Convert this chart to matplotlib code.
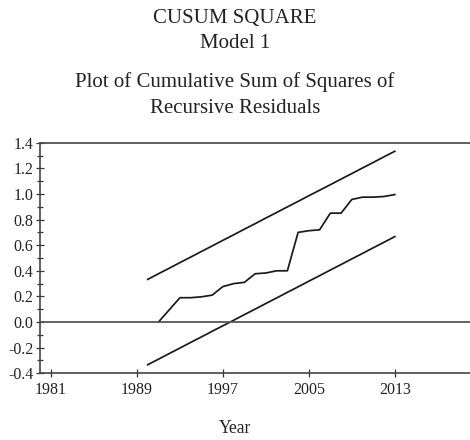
## Import libraries

import matplotlib.pyplot as plt
from matplotlib.ticker import MultipleLocator, FixedLocator

plt.rcParams['font.family'] = ['Liberation Serif', 'DejaVu Serif']

## Data

years = list(range(1990, 2014))
cusumsq_years = list(range(1991, 2014))
cusumsq = [0.00, 0.095, 0.19, 0.19, 0.197, 0.21, 0.277, 0.30, 0.31, 0.377, 0.383,
           0.40, 0.40, 0.70, 0.713, 0.72, 0.85, 0.85, 0.957, 0.975, 0.975, 0.98, 0.995]
upper = [0.333, 0.377, 0.420, 0.464, 0.507, 0.551, 0.594, 0.638, 0.681, 0.725, 0.768, 0.812,
         0.855, 0.899, 0.942, 0.986, 1.029, 1.072, 1.116, 1.159, 1.203, 1.246, 1.290, 1.333]
lower = [-0.333, -0.290, -0.246, -0.203, -0.159, -0.116, -0.072, -0.029, 0.014, 0.058, 0.101, 0.145,
         0.188, 0.232, 0.275, 0.319, 0.362, 0.406, 0.449, 0.493, 0.536, 0.580, 0.623, 0.667]
xticks = [1981, 1989, 1997, 2005, 2013]
yticks = [-0.4, -0.2, 0.0, 0.2, 0.4, 0.6, 0.8, 1.0, 1.2, 1.4]

## Plot

fig = plt.figure(figsize=(4.7, 4.4), dpi=100)
ax = fig.add_axes([0.0857, 0.1516, 0.9143, 0.5241])

ax.plot(years, upper, color='#1a1a1a', lw=1.25)
ax.plot(years, lower, color='#1a1a1a', lw=1.25)
ax.plot(cusumsq_years, cusumsq, color='#1a1a1a', lw=1.25)
ax.axhline(0, color='#555555', lw=1.3)

ax.set_xlim(1980, 2020)
ax.set_ylim(-0.4, 1.4)
ax.xaxis.set_major_locator(FixedLocator(xticks))
ax.yaxis.set_major_locator(FixedLocator(yticks))
ax.yaxis.set_minor_locator(MultipleLocator(0.1))
ax.set_yticklabels([f"{v:.1f}" for v in yticks])

ax.spines['right'].set_visible(False)
for s in ['left', 'top', 'bottom']:
    ax.spines[s].set_color('#444444')
    ax.spines[s].set_linewidth(1.2)

ax.tick_params(axis='both', which='major', direction='inout', length=6, width=0.9,
               color='#333333', labelsize=11.5, labelcolor='#222222')
ax.tick_params(axis='y', which='minor', direction='inout', length=5, width=0.9, color='#333333')
ax.tick_params(axis='y', pad=2)
ax.tick_params(axis='x', pad=3)

## Titles

fig.text(0.5, 1 - 22.7 / 440, "CUSUM SQUARE", ha='center', va='baseline', fontsize=15, color='#222222')
fig.text(0.5, 1 - 47.7 / 440, "Model 1", ha='center', va='baseline', fontsize=15, color='#222222')
fig.text(0.5, 1 - 87.3 / 440, "Plot of Cumulative Sum of Squares of", ha='center', va='baseline',
         fontsize=15, color='#222222')
fig.text(0.5, 1 - 113.3 / 440, "Recursive Residuals", ha='center', va='baseline', fontsize=15, color='#222222')
fig.text(0.5, 1 - 433.3 / 440, "Year", ha='center', va='baseline', fontsize=12.7, color='#222222')

fig.savefig("out.png", dpi=100)
